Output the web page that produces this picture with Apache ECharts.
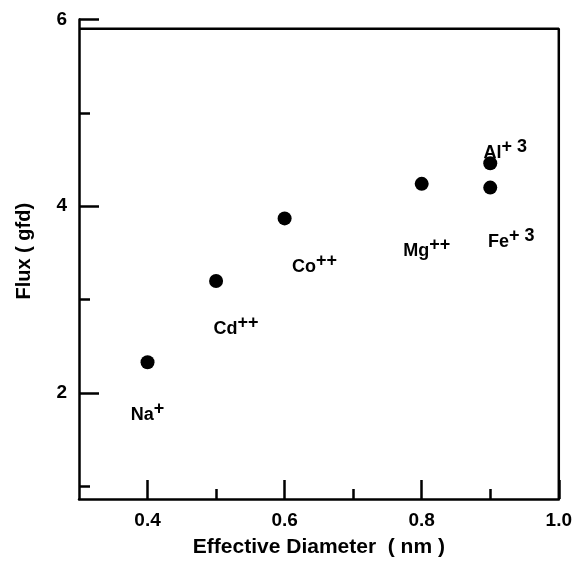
<!DOCTYPE html>
<html>
<head>
<meta charset="utf-8">
<script src="https://cdn.jsdelivr.net/npm/echarts@6/dist/echarts.min.js"></script>
<style>
  html, body { margin: 0; padding: 0; background: #fff; }
  #main { width: 575px; height: 563px; }
</style>
</head>
<body>
<div id="main"></div>
<script>
// ion, effective diameter (nm), flux (gfd)
var ions = ['Na', 'Cd', 'Co', 'Mg', 'Al', 'Fe'];
var charges = ['+', '++', '++', '++', '+ 3', '+ 3'];
var diameters = [0.4, 0.5, 0.6, 0.8, 0.9, 0.9];
var fluxes = [2.33, 3.2, 3.87, 4.24, 4.46, 4.2];

var xMajorTicks = [0.4, 0.6, 0.8, 1.0];
var xMinorTicks = [0.5, 0.7, 0.9];
var yMajorTicks = [2, 4, 6];
var yMinorTicks = [1, 3, 5];

// label offsets from the dot centre, in px
var labelOffsets = [[0, 53], [20, 48], [30, 49], [5, 67], [15, -10], [21, 54]];

var font = '"Liberation Sans", Arial, Helvetica, sans-serif';
var yMin = 0.865;
var frameTop = 5.9;

var chart = echarts.init(document.getElementById('main'));

var points = diameters.map(function (d, i) {
    return {
        value: [d, fluxes[i]],
        label: { offset: labelOffsets[i] }
    };
});

function tickAxis(dim, ticks, len, show) {
    var ax = {
        type: 'value',
        gridIndex: 0,
        position: dim === 'x' ? 'bottom' : 'left',
        min: dim === 'x' ? 0.3 : yMin,
        max: dim === 'x' ? 1.0 : 6,
        splitLine: { show: false },
        axisLine: { show: show, onZero: false, lineStyle: { color: '#000', width: 2.5 } },
        axisTick: {
            show: true, inside: true, length: len,
            customValues: ticks,
            lineStyle: { color: '#000', width: 2.5 }
        },
        axisLabel: { show: false }
    };
    return ax;
}

var x0 = tickAxis('x', xMajorTicks, 19, true);
x0.name = 'Effective Diameter  ( nm )';
x0.nameLocation = 'middle';
x0.nameGap = 38;
x0.nameTextStyle = { fontFamily: font, fontWeight: 'bold', fontSize: 21, color: '#000' };
x0.axisLabel = {
    show: true, margin: 12, customValues: xMajorTicks,
    fontFamily: font, fontWeight: 'bold', fontSize: 19, color: '#000',
    formatter: function (v) { return v.toFixed(1); }
};
var x1 = tickAxis('x', xMinorTicks, 10, false);

var y0 = tickAxis('y', yMajorTicks, 20, true);
y0.name = 'Flux ( gfd)';
y0.nameLocation = 'middle';
y0.nameGap = 45;
y0.nameTextStyle = { fontFamily: font, fontWeight: 'bold', fontSize: 20, color: '#000', padding: [0, 0, 0, 16] };
y0.axisLabel = {
    show: true, margin: 12, customValues: yMajorTicks,
    fontFamily: font, fontWeight: 'bold', fontSize: 19, color: '#000'
};
var y1 = tickAxis('y', yMinorTicks, 11, false);

var option = {
    backgroundColor: '#fff',
    animation: false,
    grid: { left: 79, right: 16, top: 19.5, bottom: 57 },
    xAxis: [x0, x1],
    yAxis: [y0, y1],
    series: [
        {
            type: 'scatter',
            symbol: 'circle',
            symbolSize: 14,
            itemStyle: { color: '#000', opacity: 1 },
            data: points,
            label: {
                show: true,
                position: 'inside',
                formatter: function (p) {
                    return '{b|' + ions[p.dataIndex] + '}{s|' + charges[p.dataIndex] + '}';
                },
                rich: {
                    b: { fontFamily: font, fontWeight: 'bold', fontSize: 18, color: '#000', lineHeight: 30 },
                    s: { fontFamily: font, fontWeight: 'bold', fontSize: 18, color: '#000', lineHeight: 16, verticalAlign: 'top' }
                }
            },
            z: 3
        },
        {
            // top and right frame
            type: 'line',
            data: [[0.3, frameTop], [1.0, frameTop], [1.0, yMin]],
            symbol: 'none',
            silent: true,
            lineStyle: { color: '#000', width: 2.5 },
            z: 1
        }
    ]
};

chart.setOption(option);
</script>
</body>
</html>
